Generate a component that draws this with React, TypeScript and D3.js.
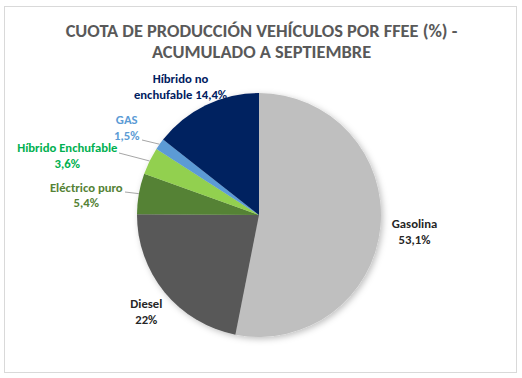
import React from "react";
import * as d3 from "d3";

const categories = ["Gasolina", "Diesel", "Eléctrico puro", "Híbrido Enchufable", "GAS", "Híbrido no enchufable"];
const values = [53.1, 22, 5.4, 3.6, 1.5, 14.4];
const labelLines = [["Gasolina", "53,1%"], ["Diesel", "22%"], ["Eléctrico puro", "5,4%"], ["Híbrido Enchufable", "3,6%"], ["GAS", "1,5%"], ["Híbrido no", "enchufable 14,4%"]];
const sliceColors = ["#bfbfbf", "#595959", "#548235", "#92d050", "#5b9bd5", "#002060"];
const labelColors = ["#262626", "#262626", "#548235", "#00b050", "#5b9bd5", "#002060"];
const titleLines = ["CUOTA DE PRODUCCIÓN VEHÍCULOS POR FFEE (%) -", "ACUMULADO A SEPTIEMBRE"];

// label layout: first-line baseline relative to pie centre, and optional leader line start
const labelLayout = [
  { dx: 155.5, dy: 13.3, line: null },
  { dx: -112.7, dy: 93.3, line: null },
  { dx: -172.7, dy: -23.3, line: [-134, -23] },
  { dx: -191.7, dy: -62.7, line: [-140, -62] },
  { dx: -132.3, dy: -90.7, line: [-117, -75] },
  { dx: -78.5, dy: -132, line: null },
];

export default function App() {
  const W = 522, H = 378;
  const cx = 259, cy = 215, r = 122;
  const pie = d3.pie<number>().sort(null).value((d) => d);
  const arcs = pie(values);
  const arc = d3.arc<d3.PieArcDatum<number>>().innerRadius(0).outerRadius(r);
  const font = "Carlito, Calibri, Lato, sans-serif";
  return (
    <svg width={W} height={H} style={{ position: "absolute", left: 0, top: 0, background: "#fff" }}>
      <defs>
        <filter id="sh" x="-20%" y="-20%" width="140%" height="140%">
          <feDropShadow dx="2" dy="2" stdDeviation="3" floodColor="#000" floodOpacity="0.25" />
        </filter>
      </defs>
      <rect x={4.5} y={6.5} width={512} height={366} fill="#fff" stroke="#d9d9d9" />
      {titleLines.map((t, i) => (
        <text key={i} x={261.5} y={36.7 + i * 21} textAnchor="middle" fontFamily={font} fontWeight="bold" fontSize={18.4} fill="#595959">
          {t}
        </text>
      ))}
      <g transform={`translate(${cx},${cy})`}>
        <g filter="url(#sh)">
          {arcs.map((a, i) => (
            <path key={categories[i]} d={arc(a) || ""} fill={sliceColors[i]} />
          ))}
        </g>
        {arcs.map((a, i) => {
          const L = labelLayout[i];
          if (!L.line) return null;
          const mid = (a.startAngle + a.endAngle) / 2;
          const ex = Math.sin(mid) * r;
          const ey = -Math.cos(mid) * r;
          return <line key={"l" + i} x1={L.line[0]} y1={L.line[1]} x2={ex} y2={ey} stroke="#a6a6a6" strokeWidth={1} />;
        })}
        {arcs.map((a, i) => {
          const L = labelLayout[i];
          return (
            <text key={"t" + i} x={L.dx} y={L.dy} textAnchor="middle" fontFamily={font} fontWeight="bold" fontSize={12.7} fill={labelColors[i]}>
              {labelLines[i].map((s, j) => (
                <tspan key={j} x={L.dx} dy={j === 0 ? 0 : 15.5}>{s}</tspan>
              ))}
            </text>
          );
        })}
      </g>
    </svg>
  );
}
